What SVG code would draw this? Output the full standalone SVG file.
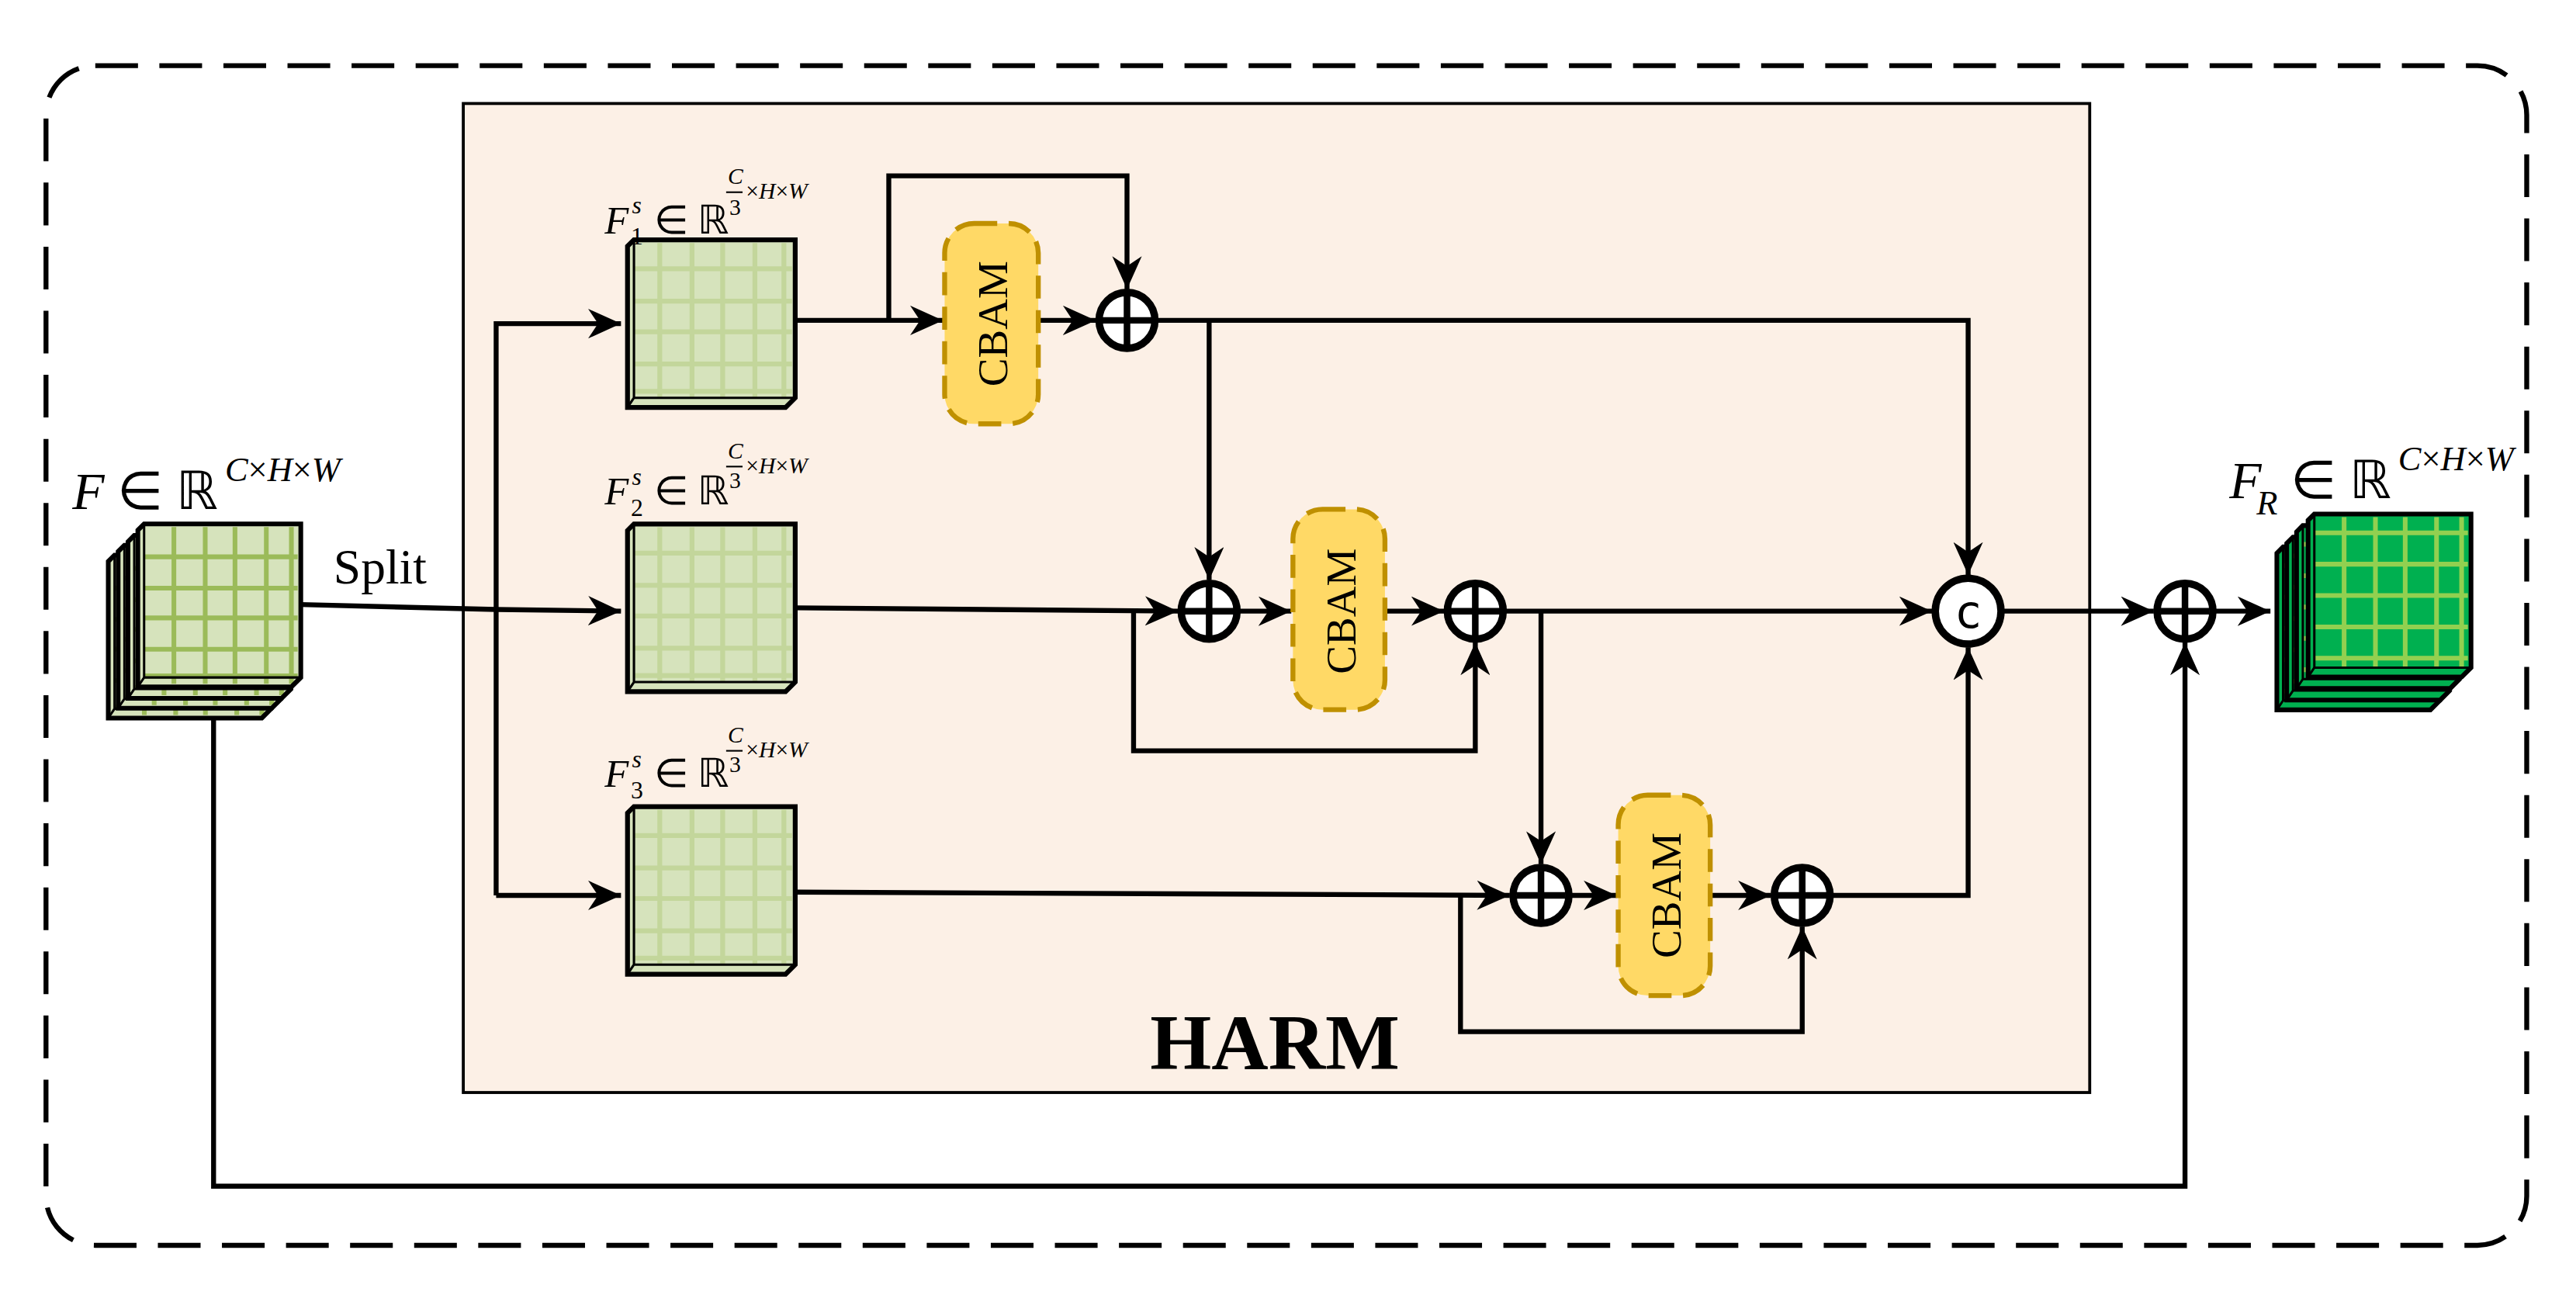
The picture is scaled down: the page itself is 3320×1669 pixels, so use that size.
<svg xmlns="http://www.w3.org/2000/svg" xmlns:xlink="http://www.w3.org/1999/xlink" width="3320" height="1669" viewBox="0 0 3320 1669">
<style>
.ln{fill:none;stroke:#000;stroke-width:3;stroke-linejoin:miter}
.cb{fill:#FFD966;stroke:#BF9000;stroke-width:3;stroke-dasharray:14 7}
.cbt{font-family:"Liberation Serif",serif;font-size:26px;fill:#000}
.op{fill:#fff;stroke:#000;stroke-width:4.5}
.m{font-family:"Liberation Serif",serif;fill:#000}
.i{font-style:italic}
</style>
<defs>
<marker id="ar" markerUnits="userSpaceOnUse" markerWidth="22" markerHeight="18" refX="20" refY="9" orient="auto">
<path d="M0,0 L20,9 L0,18 L6,9 z" fill="#000"/>
</marker>
<symbol id="tIn" viewBox="0 0 108 108">
<path d="M6,2 L106,2 L106,100 L100,106 L2,106 L2,6 z" fill="#D6E3BC"/>
<g stroke="#9BBB59" stroke-width="3"><path d="M25,4V104M45,4V104M64,4V104M84,4V104M100,4V104M6,23H104M6,43H104M6,62H104M6,82H104M6,99H104"/></g>
<path d="M6,2 L106,2 L106,100 L100,106 L2,106 L2,6 z" fill="none" stroke="#000" stroke-width="3"/>
<path d="M6,2V100H106M6,100L2,106" fill="none" stroke="#000" stroke-width="1.5"/>
</symbol>
<symbol id="tS" viewBox="0 0 108 108">
<path d="M6,2 L106,2 L106,100 L100,106 L2,106 L2,6 z" fill="#D6E3BC"/>
<g stroke="#C3D69B" stroke-width="3"><path d="M22,4V100M42,4V100M61,4V100M81,4V100M99,4V100M6,20H104M6,40H104M6,59H104M6,79H104M6,96H104"/></g>
<path d="M6,2 L106,2 L106,100 L100,106 L2,106 L2,6 z" fill="none" stroke="#000" stroke-width="3"/>
<path d="M6,2V100H106M6,100L2,106" fill="none" stroke="#000" stroke-width="1.5"/>
</symbol>
<symbol id="tOut" viewBox="0 0 108 108">
<path d="M6,2 L106,2 L106,100 L100,106 L2,106 L2,6 z" fill="#00B050"/>
<g stroke="#92D050" stroke-width="3"><path d="M25,4V100M45,4V100M64,4V100M84,4V100M100,4V100M6,14H104M6,34H104M6,54H104M6,74H104M6,94H104"/></g>
<path d="M6,2 L106,2 L106,100 L100,106 L2,106 L2,6 z" fill="none" stroke="#000" stroke-width="3"/>
<path d="M6,2V100H106M6,100L2,106" fill="none" stroke="#000" stroke-width="1.5"/>
</symbol>
<g id="plus"><circle r="17" class="op"/><path d="M-15,0H15M0,-15V15" stroke="#000" stroke-width="4"/></g>
</defs>
<g transform="scale(2.11735)">
<rect id="outer" x="28" y="40" width="1510" height="718" rx="30" fill="none" stroke="#000" stroke-width="3" stroke-dasharray="26 13"/>
<g id="harm"><rect x="282" y="63" width="990" height="602" fill="#FCF0E6" stroke="#000" stroke-width="1.8"/>
<text x="776" y="651" text-anchor="middle" class="m" font-weight="bold" font-size="48">HARM</text></g>

<g id="connectors">
<path class="ln" d="M183,368 L302,371"/>
<path class="ln" d="M302,371 L378,372" marker-end="url(#ar)"/>
<path class="ln" d="M302,545 V197 H378" marker-end="url(#ar)"/>
<path class="ln" d="M302,545 H378" marker-end="url(#ar)"/>
<path class="ln" d="M485,195 H574" marker-end="url(#ar)"/>
<path class="ln" d="M541,195 V107 H686 V176" marker-end="url(#ar)"/>
<path class="ln" d="M632,195 H667" marker-end="url(#ar)"/>
<path class="ln" d="M703,195 H1198 V350" marker-end="url(#ar)"/>
<path class="ln" d="M736,195 V353" marker-end="url(#ar)"/>
<path class="ln" d="M485,370 L717,372" marker-end="url(#ar)"/>
<path class="ln" d="M690,372 V457 H898 V391" marker-end="url(#ar)"/>
<path class="ln" d="M753,372 H786" marker-end="url(#ar)"/>
<path class="ln" d="M843,372 H879" marker-end="url(#ar)"/>
<path class="ln" d="M915,372 H1176" marker-end="url(#ar)"/>
<path class="ln" d="M938,372 V526" marker-end="url(#ar)"/>
<path class="ln" d="M485,543 L919,545" marker-end="url(#ar)"/>
<path class="ln" d="M889,545 V628 H1097 V564" marker-end="url(#ar)"/>
<path class="ln" d="M955,545 H984" marker-end="url(#ar)"/>
<path class="ln" d="M1041,545 H1078" marker-end="url(#ar)"/>
<path class="ln" d="M1114,545 H1198 V394" marker-end="url(#ar)"/>
<path class="ln" d="M1218,372 H1311" marker-end="url(#ar)"/>
<path class="ln" d="M1347,372 H1382" marker-end="url(#ar)"/>
<path class="ln" d="M130,420 V722 H1330 V391" marker-end="url(#ar)"/>
</g>

<g id="inputF">
<use href="#tIn" x="64" y="336" width="103" height="103"/>
<use href="#tIn" x="70" y="330" width="103" height="103"/>
<use href="#tIn" x="76" y="324" width="103" height="103"/>
<use href="#tIn" x="82" y="317" width="103" height="103"/>
<text x="44" y="310" class="m" font-size="32"><tspan class="i">F</tspan><tspan dx="8">∈ ℝ</tspan><tspan class="i" font-size="21" dy="-17" dx="4">C</tspan><tspan font-size="21">×</tspan><tspan class="i" font-size="21">H</tspan><tspan font-size="21">×</tspan><tspan class="i" font-size="21">W</tspan></text>
<text x="203" y="355" class="m" font-size="30">Split</text>
</g>

<g id="F1"><use href="#tS" x="379" y="144" width="108" height="106"/>
<text x="368" y="142" class="m" font-size="24"><tspan class="i">F</tspan><tspan class="i" font-size="15" dx="2" dy="-12">s</tspan></text><text x="384" y="149" class="m" font-size="15">1</text><text x="398" y="142" class="m" font-size="24">∈ ℝ</text>
<text x="443" y="112" class="m i" font-size="14">C</text><path d="M442,117H452" stroke="#000" stroke-width="1"/><text x="444" y="131" class="m" font-size="14">3</text><text x="454" y="121" class="m" font-size="14">×<tspan class="i">H</tspan>×<tspan class="i">W</tspan></text>
</g>
<g id="F2"><use href="#tS" x="379" y="317" width="108" height="106"/>
<text x="368" y="307" class="m" font-size="24"><tspan class="i">F</tspan><tspan class="i" font-size="15" dx="2" dy="-12">s</tspan></text><text x="384" y="314" class="m" font-size="15">2</text><text x="398" y="307" class="m" font-size="24">∈ ℝ</text>
<text x="443" y="279" class="m i" font-size="14">C</text><path d="M442,284H452" stroke="#000" stroke-width="1"/><text x="444" y="297" class="m" font-size="14">3</text><text x="454" y="288" class="m" font-size="14">×<tspan class="i">H</tspan>×<tspan class="i">W</tspan></text>
</g>
<g id="F3"><use href="#tS" x="379" y="489" width="108" height="106"/>
<text x="368" y="479" class="m" font-size="24"><tspan class="i">F</tspan><tspan class="i" font-size="15" dx="2" dy="-12">s</tspan></text><text x="384" y="486" class="m" font-size="15">3</text><text x="398" y="479" class="m" font-size="24">∈ ℝ</text>
<text x="443" y="452" class="m i" font-size="14">C</text><path d="M442,457H452" stroke="#000" stroke-width="1"/><text x="444" y="470" class="m" font-size="14">3</text><text x="454" y="461" class="m" font-size="14">×<tspan class="i">H</tspan>×<tspan class="i">W</tspan></text>
</g>

<g id="cbam1"><rect x="575" y="136" width="57" height="122" rx="18" class="cb"/><text class="cbt" transform="translate(613,197) rotate(-90)" text-anchor="middle">CBAM</text></g>
<g id="cbam2"><rect x="787" y="310" width="56" height="122" rx="18" class="cb"/><text class="cbt" transform="translate(825,372) rotate(-90)" text-anchor="middle">CBAM</text></g>
<g id="cbam3"><rect x="985" y="484" width="56" height="122" rx="18" class="cb"/><text class="cbt" transform="translate(1023,545) rotate(-90)" text-anchor="middle">CBAM</text></g>

<g id="add1"><use href="#plus" x="686" y="195"/></g>
<g id="add2"><use href="#plus" x="736" y="372"/></g>
<g id="add3"><use href="#plus" x="898" y="372"/></g>
<g id="add4"><use href="#plus" x="938" y="545"/></g>
<g id="add5"><use href="#plus" x="1097" y="545"/></g>
<g id="add6"><use href="#plus" x="1330" y="372"/></g>
<g id="concat"><circle cx="1198" cy="372" r="20" class="op"/><text x="1198" y="382" text-anchor="middle" font-family="'DejaVu Sans Mono',monospace" font-size="28">c</text></g>

<g id="outputF">
<use href="#tOut" x="1384" y="331" width="103" height="103"/>
<use href="#tOut" x="1390" y="325" width="103" height="103"/>
<use href="#tOut" x="1396" y="318" width="103" height="103"/>
<use href="#tOut" x="1403" y="311" width="103" height="103"/>
<text x="1357" y="303" class="m" font-size="32"><tspan class="i">F</tspan><tspan class="i" font-size="21" dy="10" dx="-3">R</tspan><tspan dx="8" dy="-10">∈ ℝ</tspan><tspan class="i" font-size="21" dy="-17" dx="4">C</tspan><tspan font-size="21">×</tspan><tspan class="i" font-size="21">H</tspan><tspan font-size="21">×</tspan><tspan class="i" font-size="21">W</tspan></text>
</g>
</g>
</svg>
